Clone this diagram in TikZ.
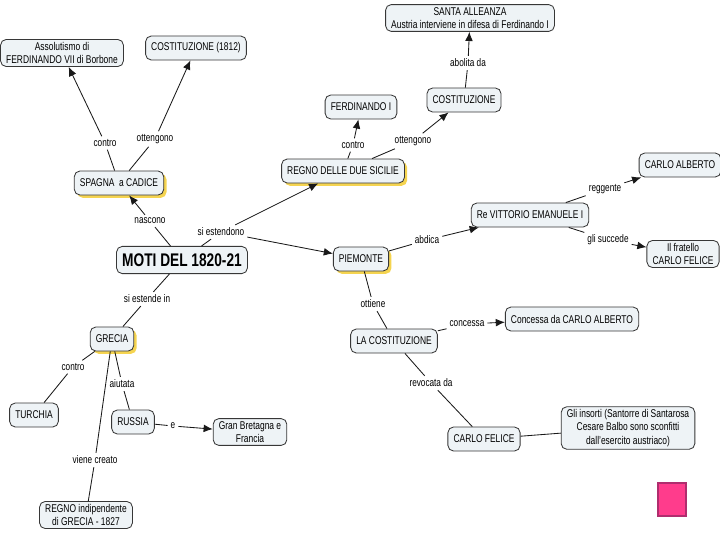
\documentclass[tikz,border=0pt]{standalone}
\usepackage{fontspec}
\setmainfont{Liberation Sans}[FakeStretch=0.75]
\usetikzlibrary{arrows.meta,shadows}

\definecolor{boxfill}{RGB}{238,243,246}
\definecolor{boxline}{RGB}{55,55,55}
\definecolor{glow}{RGB}{245,212,80}
\definecolor{pinkfill}{RGB}{255,60,140}
\definecolor{pinkline}{RGB}{176,45,110}

\tikzset{
    concept/.style={draw=boxline, fill=boxfill, rounded corners=4pt, line width=0.6pt,
        align=center, inner xsep=4pt, inner ysep=2pt, minimum height=0.6cm,
        font=\fontsize{8}{9.4}\selectfont},
    hl/.style={general shadow={fill=glow, shadow xshift=2pt, shadow yshift=-2pt}},
    lab/.style={inner sep=2pt, font=\fontsize{7.8}{9}\selectfont},
    link/.style={draw=black!90, line width=0.6pt},
    arr/.style={link, -{Latex[length=6.5pt,width=5.5pt]}}
}

\begin{document}
\begin{tikzpicture}[x=0.025cm, y=-0.025cm]
    \useasboundingbox (0,0) rectangle (720,540);

    % concepts
    \node[concept] (assol) at (62,53) {Assolutismo di\\FERDINANDO VII di Borbone};
    \node[concept] (cost12) at (196,48) {COSTITUZIONE (1812)};
    \node[concept] (santa) at (470,18) {SANTA ALLEANZA\\Austria interviene in difesa di Ferdinando I};
    \node[concept] (cost) at (464,100) {COSTITUZIONE};
    \node[concept] (ferd) at (361,107) {FERDINANDO I};
    \node[concept, hl] (sicilie) at (343,171) {REGNO DELLE DUE SICILIE};
    \node[concept, hl] (spagna) at (119,183) {SPAGNA\ \ a CADICE};
    \node[concept, minimum height=0.68cm, font=\fontsize{13}{14}\selectfont\bfseries] (moti) at (182,260) {MOTI DEL 1820-21};
    \node[concept, hl] (piem) at (361,259) {PIEMONTE};
    \node[concept] (vitt) at (530,215) {Re VITTORIO EMANUELE I};
    \node[concept] (alberto) at (680,165) {CARLO ALBERTO};
    \node[concept] (fratello) at (683,254) {Il fratello\\CARLO FELICE};
    \node[concept] (lacost) at (394,341) {LA COSTITUZIONE};
    \node[concept] (concessa) at (572,319) {Concessa da CARLO ALBERTO};
    \node[concept] (felice) at (484,439) {CARLO FELICE};
    \node[concept] (insorti) at (628,428) {Gli insorti (Santorre di Santarosa\\Cesare Balbo sono sconfitti\\dall'esercito austriaco)};
    \node[concept, hl] (grecia) at (112,339) {GRECIA};
    \node[concept] (turchia) at (34,415) {TURCHIA};
    \node[concept] (russia) at (133,422) {RUSSIA};
    \node[concept] (gran) at (250,432) {Gran Bretagna e\\Francia};
    \node[concept] (regno) at (86,515) {REGNO indipendente\\di GRECIA - 1827};

    % linking phrases
    \node[lab] (l1) at (105,143) {contro};
    \node[lab] (l2) at (155,139) {ottengono};
    \node[lab] (l3) at (150,221) {nascono};
    \node[lab] (l4) at (221,232) {si estendono};
    \node[lab] (l5) at (353,145) {contro};
    \node[lab] (l6) at (413,141) {ottengono};
    \node[lab] (l7) at (468,63) {abolita da};
    \node[lab] (l8) at (427,240) {abdica};
    \node[lab] (l9) at (605,189) {reggente};
    \node[lab] (l10) at (608,240) {gli succede};
    \node[lab] (l11) at (373,304) {ottiene};
    \node[lab] (l12) at (467,324) {concessa};
    \node[lab] (l13) at (431,383) {revocata da};
    \node[lab] (l14) at (147,299) {si estende in};
    \node[lab] (l15) at (73,367) {contro};
    \node[lab] (l16) at (122,384) {aiutata};
    \node[lab] (l17) at (173,426) {e};
    \node[lab] (l18) at (95,460) {viene creato};

    % connections
    \draw[link] (spagna) -- (l1);
    \draw[arr] (l1) -- (assol);
    \draw[link] (spagna) -- (l2);
    \draw[arr] (l2) -- (cost12);
    \draw[link] (moti) -- (l3);
    \draw[arr] (l3) -- (spagna);
    \draw[link] (moti) -- (l4);
    \draw[arr] (l4) -- (sicilie);
    \draw[arr] (l4) -- (piem);
    \draw[link] (sicilie) -- (l5);
    \draw[arr] (l5) -- (ferd);
    \draw[link] (sicilie) -- (l6);
    \draw[arr] (l6) -- (cost);
    \draw[link] (cost) -- (l7);
    \draw[arr] (l7) -- (santa);
    \draw[link] (piem) -- (l8);
    \draw[arr] (l8) -- (vitt);
    \draw[link] (vitt) -- (l9);
    \draw[arr] (l9) -- (alberto);
    \draw[link] (vitt) -- (l10);
    \draw[arr] (l10) -- (fratello);
    \draw[link] (piem) -- (l11);
    \draw[link] (l11) -- (lacost);
    \draw[link] (lacost) -- (l12);
    \draw[arr] (l12) -- (concessa);
    \draw[link] (lacost) -- (l13);
    \draw[link] (l13) -- (felice);
    \draw[link] (felice) -- (insorti);
    \draw[link] (moti) -- (l14);
    \draw[link] (l14) -- (grecia);
    \draw[link] (grecia) -- (l15);
    \draw[link] (l15) -- (turchia);
    \draw[link] (grecia) -- (l16);
    \draw[link] (l16) -- (russia);
    \draw[link] (russia) -- (l17);
    \draw[arr] (l17) -- (gran);
    \draw[link] (grecia) -- (l18);
    \draw[link] (l18) -- (regno);

    % marker square
    \draw[fill=pinkfill, draw=pinkline, line width=1.5pt] (658,483) rectangle (686,516);
\end{tikzpicture}
\end{document}
